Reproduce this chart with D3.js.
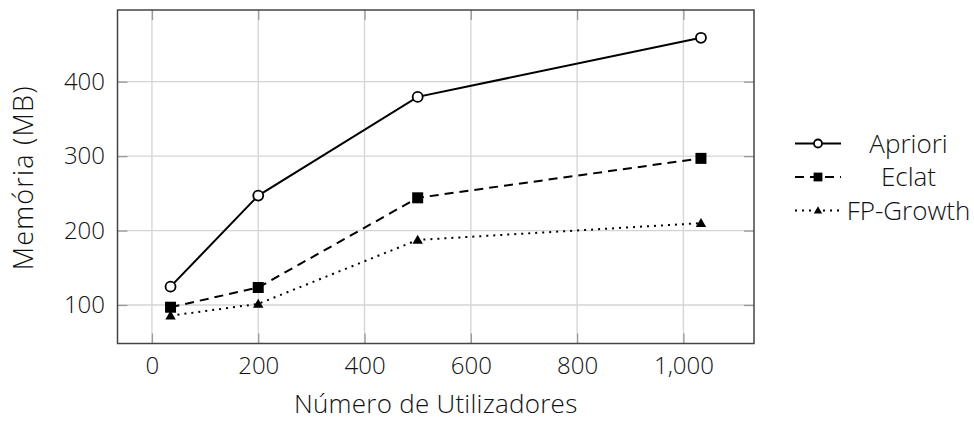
<!DOCTYPE html>
<html>
<head>
<meta charset="utf-8">
<style>
  body { margin: 0; background: #fff; }
  svg text { font-family: "Open Sans", sans-serif; font-weight: 300; fill: #111; }
  .tick text { font-size: 24px; }
  .xTitle { font-size: 26px; letter-spacing: 0.25px; }
  .yTitle { font-size: 27px; letter-spacing: 1.2px; }
  .legendText { font-size: 26px; }
</style>
</head>
<body>
<svg id="chart" width="974" height="421"></svg>
<script src="https://cdn.jsdelivr.net/npm/d3@7"></script>
<script>

var users = [35, 200, 500, 1033];
var apriori = [124.6, 247, 379.6, 459];
var eclat = [97, 123.5, 244, 297];
var fpGrowth = [85.6, 101.5, 187.4, 210];
var xTicks = [0, 200, 400, 600, 800, 1000];
var yTicks = [100, 200, 300, 400];

var series = [
  {name: "Apriori", values: apriori, dash: null, marker: "circle"},
  {name: "Eclat", values: eclat, dash: "9,6", marker: "square"},
  {name: "FP-Growth", values: fpGrowth, dash: "2,5", marker: "triangle"}
];

var svg = d3.select("#chart"),
    margin = {top: 10, left: 117.5, right: 220, bottom: 77.5},
    width = 974 - margin.left - margin.right,
    height = 421 - margin.top - margin.bottom,
    g = svg.append("g").attr("transform", "translate(" + margin.left + "," + margin.top + ")");

// pgfplots style: 10% padding on each side of the data range
var xr = d3.extent(users), xPad = (xr[1] - xr[0]) * 0.1;
var allY = apriori.concat(eclat, fpGrowth);
var yr = d3.extent(allY), yPad = (yr[1] - yr[0]) * 0.1;

var x = d3.scaleLinear().domain([xr[0] - xPad, xr[1] + xPad]).range([0, width]);
var y = d3.scaleLinear().domain([yr[0] - yPad, yr[1] + yPad]).range([height, 0]);

// grid
g.append("g").selectAll("line").data(xTicks).enter().append("line")
    .attr("x1", function(d) { return x(d); }).attr("x2", function(d) { return x(d); })
    .attr("y1", 0).attr("y2", height)
    .attr("stroke", "#d4d4d4").attr("stroke-width", 1.3);
g.append("g").selectAll("line").data(yTicks).enter().append("line")
    .attr("y1", function(d) { return y(d); }).attr("y2", function(d) { return y(d); })
    .attr("x1", 0).attr("x2", width)
    .attr("stroke", "#d4d4d4").attr("stroke-width", 1.3);

// inner tick marks on all four sides
var tickLen = 10;
var xAxisB = g.append("g").attr("transform", "translate(0," + height + ")")
    .call(d3.axisBottom(x).tickValues(xTicks).tickSizeInner(-tickLen).tickSizeOuter(0)
      .tickPadding(13).tickFormat(d3.format(",")));
var xAxisT = g.append("g")
    .call(d3.axisTop(x).tickValues(xTicks).tickSizeInner(-tickLen).tickSizeOuter(0).tickFormat(""));
var yAxisL = g.append("g")
    .call(d3.axisLeft(y).tickValues(yTicks).tickSizeInner(-tickLen).tickSizeOuter(0).tickPadding(12.5));
var yAxisR = g.append("g").attr("transform", "translate(" + width + ",0)")
    .call(d3.axisRight(y).tickValues(yTicks).tickSizeInner(-tickLen).tickSizeOuter(0).tickFormat(""));

[xAxisB, xAxisT, yAxisL, yAxisR].forEach(function(a) {
  a.select(".domain").remove();
  a.selectAll(".tick line").attr("stroke", "#999").attr("stroke-width", 1.3);
  a.selectAll(".tick text").attr("fill", "#111").style("font-family", "'Open Sans', sans-serif").style("font-weight", 300);
});

// frame
g.append("rect").attr("width", width).attr("height", height)
    .attr("fill", "none").attr("stroke", "#444").attr("stroke-width", 1.5);

function drawMarker(sel, type, cx, cy, s) {
  if (type === "circle") {
    sel.append("circle").attr("cx", cx).attr("cy", cy).attr("r", 5 * s)
      .attr("fill", "#fff").attr("stroke", "#000").attr("stroke-width", 1.8);
  } else if (type === "square") {
    sel.append("rect").attr("x", cx - 5.5 * s).attr("y", cy - 5.5 * s)
      .attr("width", 11 * s).attr("height", 11 * s).attr("fill", "#000");
  } else {
    var r = 5.2 * s;
    sel.append("path")
      .attr("d", "M" + cx + "," + (cy - r) + "L" + (cx + r) + "," + (cy + r * 0.75) + "L" + (cx - r) + "," + (cy + r * 0.75) + "Z")
      .attr("fill", "#000");
  }
}

var line = d3.line()
    .x(function(d, i) { return x(users[i]); })
    .y(function(d) { return y(d); });

series.forEach(function(s) {
  g.append("path")
    .datum(s.values)
    .attr("fill", "none")
    .attr("stroke", "#000")
    .attr("stroke-width", 2)
    .attr("stroke-dasharray", s.dash)
    .attr("d", line);
  var mg = g.append("g");
  s.values.forEach(function(v, i) {
    drawMarker(mg, s.marker, x(users[i]), y(v), 1);
  });
});

// axis titles
svg.append("text").attr("class", "xTitle")
    .attr("x", margin.left + width / 2).attr("y", 413)
    .attr("text-anchor", "middle")
    .text("Número de Utilizadores");
svg.append("text").attr("class", "yTitle")
    .attr("transform", "translate(33," + (margin.top + height / 2 + 1) + ") rotate(-90)")
    .attr("text-anchor", "middle")
    .text("Memória (MB)");

// legend
var legend = svg.append("g").attr("transform", "translate(795,143.5)");
series.forEach(function(s, i) {
  var row = legend.append("g").attr("transform", "translate(0," + (i * 33.5) + ")");
  row.append("line").attr("x1", 0).attr("x2", 46).attr("y1", 0).attr("y2", 0)
    .attr("stroke", "#000").attr("stroke-width", 2).attr("stroke-dasharray", s.dash);
  drawMarker(row, s.marker, 23, 0, 0.8);
  row.append("text").attr("class", "legendText")
    .attr("x", 113.5).attr("y", 0).attr("dy", "0.35em")
    .attr("text-anchor", "middle")
    .text(s.name);
});

</script>
</body>
</html>
